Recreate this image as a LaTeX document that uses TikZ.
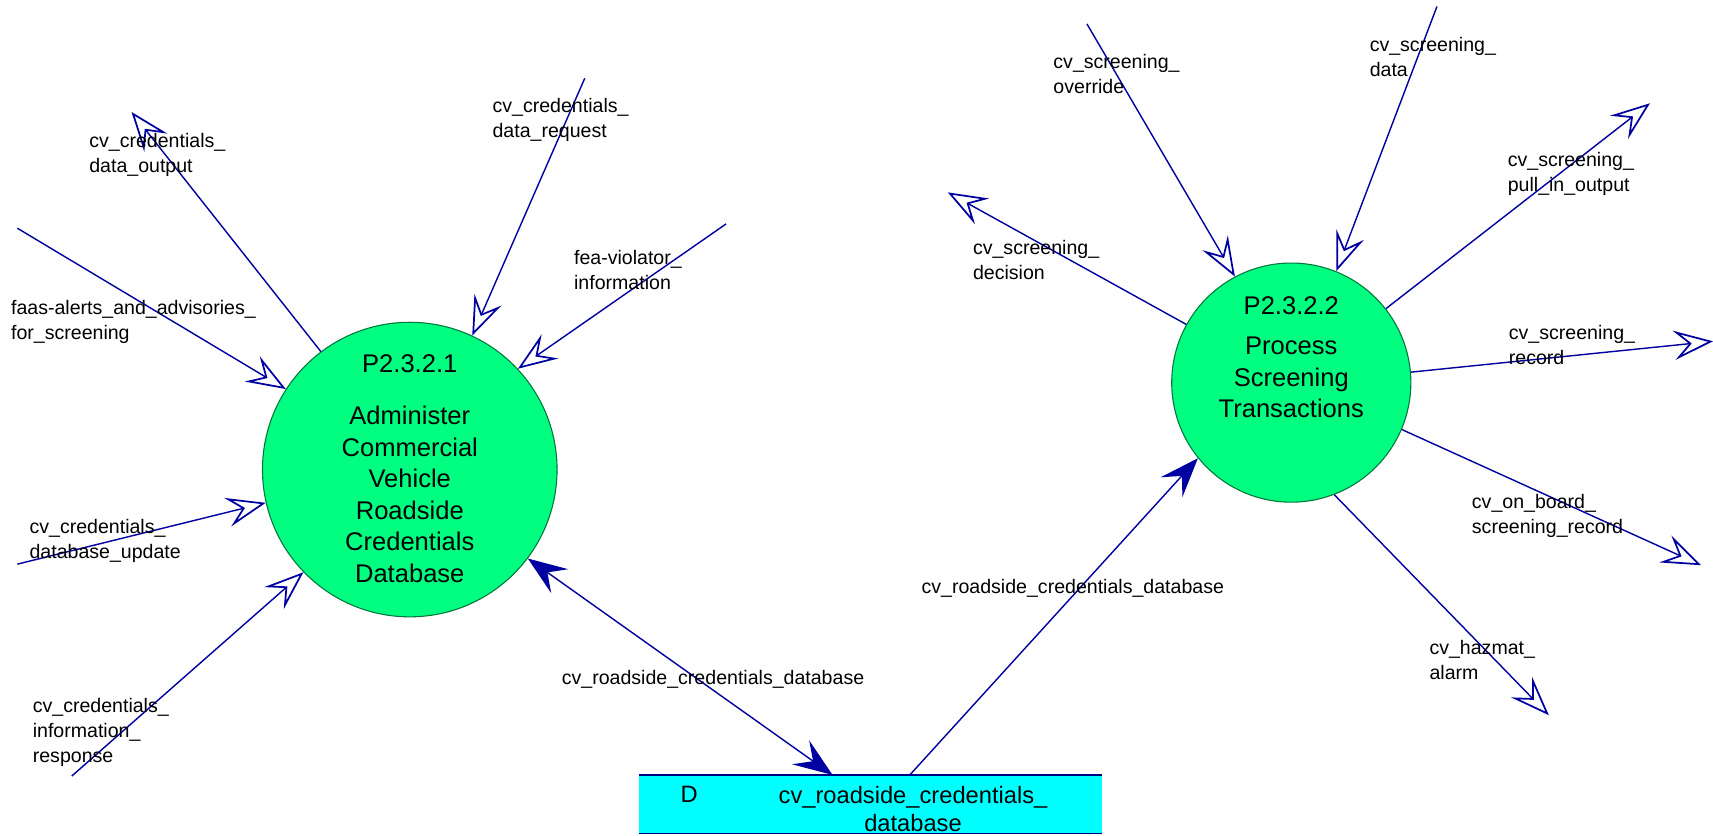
\documentclass[tikz,border=0pt]{standalone}
\usepackage{fontspec}
\setmainfont{Liberation Sans}
\usetikzlibrary{arrows.meta}
\definecolor{flowc}{RGB}{0,0,160}
\definecolor{procfill}{RGB}{0,255,128}
\definecolor{procline}{RGB}{0,120,60}
\definecolor{storefill}{RGB}{0,255,255}
\definecolor{storeline}{RGB}{0,0,128}
\tikzset{
  proc/.style={circle,draw=procline,fill=procfill,line width=1pt,inner sep=0pt},
  flow/.style={draw=flowc,line width=1.3pt,-{Stealth[open,length=36pt,width=27pt,inset=14pt,line width=1.6pt]}},
  dflow/.style={draw=flowc,line width=1.3pt,{Stealth[length=36pt,width=27pt,inset=14pt]}-{Stealth[length=36pt,width=27pt,inset=14pt]}},
  dflowone/.style={draw=flowc,line width=1.3pt,-{Stealth[length=36pt,width=27pt,inset=14pt]}},
  lbl/.style={font=\fontsize{18}{23}\selectfont,align=left,anchor=west,inner sep=0pt},
  ptxt/.style={font=\fontsize{23.5}{29}\selectfont,align=center,inner sep=0pt},
  stxt/.style={font=\fontsize{21.8}{26}\selectfont,align=center,inner sep=0pt}
}
\begin{document}
\begin{tikzpicture}[x=1pt,y=-1pt]
\useasboundingbox (0,0) rectangle (1576,769);

% processes
\node[proc,minimum size=271pt] (c1) at (377,432) {};
\node[proc,minimum size=220pt] (c2) at (1188,352) {};
\node[ptxt] (c1id) at (377,335) {P2.3.2.1};
\node[ptxt] (c1name) at (377,455) {Administer\\Commercial\\Vehicle\\Roadside\\Credentials\\Database};
\node[ptxt] (c2id) at (1188,281) {P2.3.2.2};
\node[ptxt] (c2name) at (1188,347.5) {Process\\Screening\\Transactions};

% data store
\node[fill=storefill,minimum width=426pt,minimum height=53.6pt,inner sep=0pt] (store) at (801,739.8) {};
\draw[storeline,line width=1.5pt] (store.north west) -- (store.north east);
\draw[storeline,line width=1.5pt] (store.south west) -- (store.south east);
\node[stxt] (sd) at (634,731) {D};
\node[stxt] (sname) at (840,744) {cv\_roadside\_credentials\_\\database};
\coordinate (s1) at (766,713);
\coordinate (s2) at (837,713);

% free ends
\coordinate (e1) at (121,103);
\coordinate (e2) at (538,72);
\coordinate (e3) at (668,206);
\coordinate (e4) at (16,210);
\coordinate (e5) at (16,519);
\coordinate (e6) at (66,714);
\coordinate (e8) at (1000,22);
\coordinate (e9) at (1322,6);
\coordinate (e10) at (1518,95);
\coordinate (e11) at (872,177);
\coordinate (e12) at (1576,314);
\coordinate (e13) at (1565,520);
\coordinate (e14) at (1425,658);

% flows of P2.3.2.1
\draw[flow] (c1.127.5) -- (e1);
\draw[flow] (e2) -- (c1.65.8);
\draw[flow] (e3) -- (c1.43.2);
\draw[flow] (e4) -- (c1.147.8);
\draw[flow] (e5) -- (c1.193.6);
\draw[flow] (e6) -- (c1.224);
\draw[dflow] (c1.323.9) -- (s1);

% flows of P2.3.2.2
\draw[flow] (e8) -- (c2.118.2);
\draw[flow] (e9) -- (c2.68.1);
\draw[flow] (c2.38.3) -- (e10);
\draw[flow] (c2.151.1) -- (e11);
\draw[flow] (c2.5.8) -- (e12);
\draw[flow] (c2.-23.3) -- (e13);
\draw[flow] (c2.-69.1) -- (e14);
\draw[dflowone] (s2) -- (c2.219);

% labels
\node[lbl] (l1) at (82,142.5) {cv\_credentials\_\\data\_output};
\node[lbl] (l2) at (453,110) {cv\_credentials\_\\data\_request};
\node[lbl] (l3) at (528,248) {fea-violator\_\\information};
\node[lbl] (l4) at (10,296) {faas-alerts\_and\_advisories\_\\for\_screening};
\node[lbl] (l5) at (27,498) {cv\_credentials\_\\database\_update};
\node[lbl] (l6) at (30,674) {cv\_credentials\_\\information\_\\response};
\node[lbl,anchor=center] (l7) at (656,625) {cv\_roadside\_credentials\_database};
\node[lbl,anchor=center] (l15) at (987,541) {cv\_roadside\_credentials\_database};
\node[lbl] (l8) at (969,68) {cv\_screening\_\\override};
\node[lbl] (l9) at (1260,52) {cv\_screening\_\\data};
\node[lbl] (l10) at (1387,160) {cv\_screening\_\\pull\_in\_output};
\node[lbl] (l11) at (895,239) {cv\_screening\_\\decision};
\node[lbl] (l12) at (1388,317) {cv\_screening\_\\record};
\node[lbl] (l13) at (1354,475) {cv\_on\_board\_\\screening\_record};
\node[lbl] (l14) at (1315,607) {cv\_hazmat\_\\alarm};
\end{tikzpicture}
\end{document}
